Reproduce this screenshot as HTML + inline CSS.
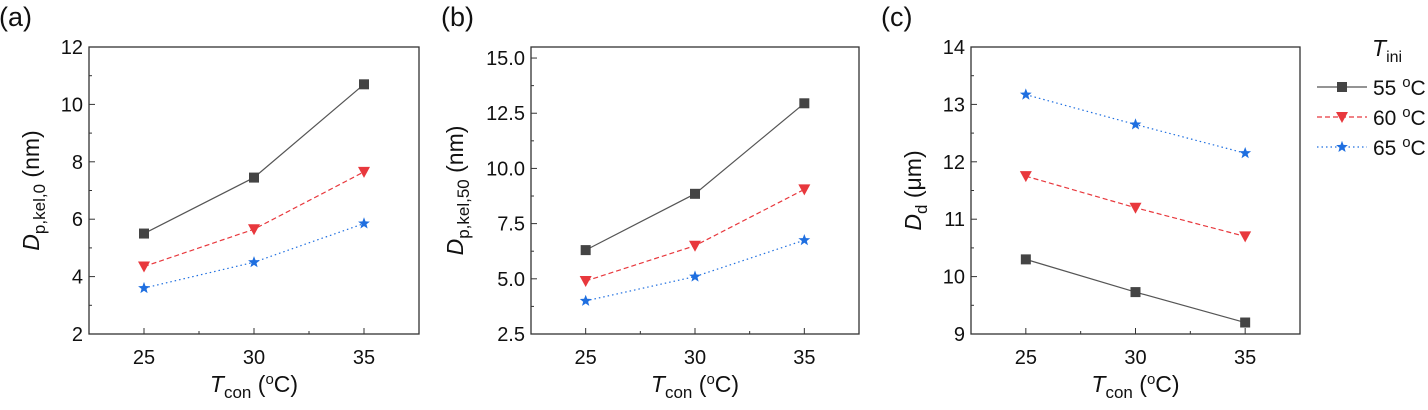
<!DOCTYPE html>
<html><head><meta charset="utf-8"><style>
body{margin:0;background:#fff}
svg text{font-family:"Liberation Sans",Arial,sans-serif;fill:#111}
</style></head><body>
<svg id="chart" width="1428" height="405" xmlns="http://www.w3.org/2000/svg"></svg>
<script>
const categories=[25,30,35];
const aBlack=[5.5,7.45,10.7], aRed=[4.35,5.65,7.65], aBlue=[3.6,4.5,5.85];
const bBlack=[6.3,8.85,12.95], bRed=[4.9,6.5,9.05], bBlue=[4.0,5.1,6.75];
const cBlack=[10.3,9.73,9.2], cRed=[11.75,11.2,10.7], cBlue=[13.17,12.65,12.15];
const aTicks=[2,4,6,8,10,12], bTicks=[2.5,5.0,7.5,10.0,12.5,15.0], cTicks=[9,10,11,12,13,14];
const aTickLabels=["2","4","6","8","10","12"], bTickLabels=["2.5","5.0","7.5","10.0","12.5","15.0"], cTickLabels=["9","10","11","12","13","14"];
const legendLabels=["55 ºC","60 ºC","65 ºC"];

const NS="http://www.w3.org/2000/svg";
const svg=document.getElementById('chart');
function mk(tag,attrs,parent){const e=document.createElementNS(NS,tag);for(const k in attrs)e.setAttribute(k,attrs[k]);(parent||svg).appendChild(e);return e;}
const styles=[{c:'#444',lc:'#555',dash:'',m:'sq'},{c:'#e8383d',lc:'#e8383d',dash:'5,3',m:'tri'},{c:'#1f6fe0',lc:'#1f6fe0',dash:'1.5,3',m:'star'}];
function marker(g,type,x,y,c){
  let e;
  if(type==='sq'){e=mk('rect',{x:x-5,y:y-5,width:10,height:10,fill:c},g);}
  else if(type==='tri'){e=mk('polygon',{points:`${x-6},${y-5} ${x+6},${y-5} ${x},${y+6}`,fill:c},g);}
  else{let p=[];for(let i=0;i<10;i++){const r=i%2?2.6:6.2;const a=-Math.PI/2+i*Math.PI/5;p.push((x+r*Math.cos(a)).toFixed(1)+','+(y+r*Math.sin(a)).toFixed(1));}
    e=mk('polygon',{points:p.join(' '),fill:c},g);}
  return e;
}
function panel(id,left,right,ymin,ymax,ticks,tickLabels,series,label,ytitleMain,ytitleSub,ytitleUnit,ytx){
  const top=47,bot=334;
  const xs=v=>left+ (v-22.5)/(15)*(right-left);
  const ys=v=>bot-(v-ymin)/(ymax-ymin)*(bot-top);
  const g=mk('g',{});
  
  
  const pl=mk('text',{x:left-90,y:26,'font-size':27},g);pl.textContent=label;
  
  const box=mk('rect',{x:left,y:top,width:right-left,height:bot-top,fill:'none',stroke:'#333','stroke-width':1.3},g);
  
  ticks.forEach((t,i)=>{const y=ys(t);mk('line',{x1:left,x2:left+6,y1:y,y2:y,stroke:'#333'},g);
    if(i<ticks.length-1){const ym=ys((t+ticks[i+1])/2);mk('line',{x1:left,x2:left+3,y1:ym,y2:ym,stroke:'#333'},g);}
    const tx=mk('text',{x:left-6,y:y+7,'font-size':20,'text-anchor':'end'},g);tx.textContent=tickLabels[i];
    });
  categories.forEach(c=>{const x=xs(c);mk('line',{x1:x,x2:x,y1:bot,y2:bot-6,stroke:'#333'},g);
    const tx=mk('text',{x:x,y:bot+30,'font-size':20,'text-anchor':'middle'},g);tx.textContent=c;
    });
  [27.5,32.5].forEach(c=>{const x=xs(c);mk('line',{x1:x,x2:x,y1:bot,y2:bot-3,stroke:'#333'},g);});
  const xt=mk('text',{x:(left+right)/2,y:392,'font-size':23,'text-anchor':'middle'},g);
  
  xt.innerHTML='<tspan font-style="italic">T</tspan><tspan font-size="17" dy="6">con</tspan><tspan dy="-6"> (</tspan><tspan font-size="15" dy="-8">o</tspan><tspan dy="8">C)</tspan>';
  const yt=mk('text',{transform:`translate(${left-ytx},${(top+bot)/2}) rotate(-90)`,'font-size':23,'text-anchor':'middle'},g);
  
  yt.innerHTML=`<tspan font-style="italic">D</tspan><tspan font-size="17" dy="6">${ytitleSub}</tspan><tspan dy="-6"> ${ytitleUnit}</tspan>`;
  series.forEach((vals,si)=>{const s=styles[si];
    const pts=categories.map((c,i)=>xs(c)+','+ys(vals[i])).join(' ');
    const ln=mk('polyline',{points:pts,fill:'none',stroke:s.lc,'stroke-width':1.2,'stroke-dasharray':s.dash},g);
    
    categories.forEach((c,i)=>{const m=marker(g,s.m,xs(c),ys(vals[i]),s.c);
      });
  });
}
panel('panel-a',89,419,2,12,aTicks,aTickLabels,[aBlack,aRed,aBlue],'(a)','D','p,kel,0','(nm)',50);
panel('panel-b',531,859,2.5,15.5,bTicks,bTickLabels,[bBlack,bRed,bBlue],'(b)','D','p,kel,50','(nm)',68);
panel('panel-c',971,1300,9,14,cTicks,cTickLabels,[cBlack,cRed,cBlue],'(c)','D','d','(μm)',50);
const lg=mk('g',{});


const lt=mk('text',{x:1372,y:56,'font-size':23},lg);
lt.innerHTML='<tspan font-style="italic">T</tspan><tspan font-size="16" dy="6">ini</tspan>';
legendLabels.forEach((l,i)=>{const y=87+i*30;const s=styles[i];
  const e=mk('g',{},lg);
  
  
  mk('line',{x1:1317,x2:1367,y1:y,y2:y,stroke:s.lc,'stroke-width':1.2,'stroke-dasharray':s.dash},e);
  marker(e,s.m,1342,y,s.c);
  const t=mk('text',{x:1373,y:y+8,'font-size':21},e);
  t.innerHTML=l.split(' ')[0]+' <tspan font-size="15" dy="-8">o</tspan><tspan dy="8">C</tspan>';
});
</script>
</body></html>
